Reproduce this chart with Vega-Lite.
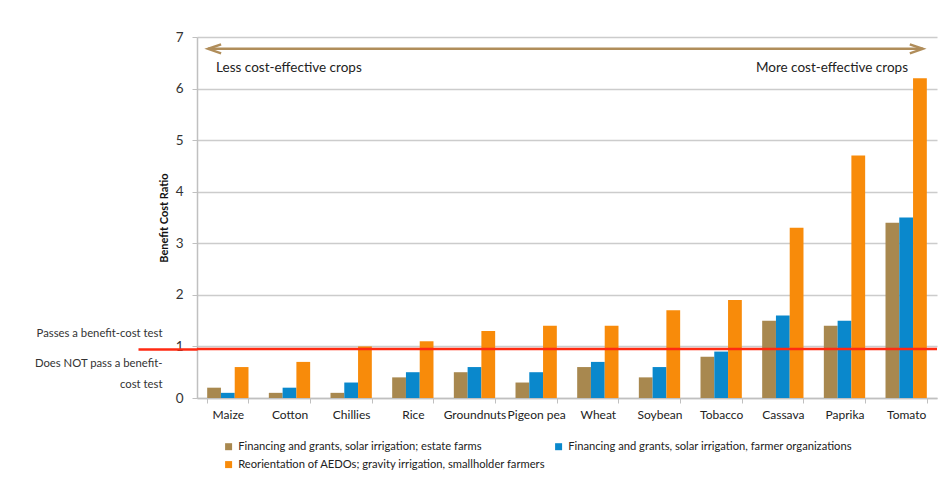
{
  "$schema": "https://vega.github.io/schema/vega-lite/v6.json",
  "width": 740,
  "height": 361,
  "autosize": {"type": "none"},
  "padding": {"left": 197, "top": 37, "right": 9, "bottom": 92},
  "background": "white",
  "config": {
    "font": "Lato",
    "view": {"stroke": null},
    "axis": {"labelFont": "Lato", "titleFont": "Lato"},
    "legend": {"labelFont": "Lato"},
    "text": {"font": "Lato"}
  },
  "datasets": {
    "bcr": [
      {"crop": "Maize", "series": "Financing and grants, solar irrigation; estate farms", "value": 0.2},
      {"crop": "Maize", "series": "Financing and grants, solar irrigation, farmer organizations", "value": 0.1},
      {"crop": "Maize", "series": "Reorientation of AEDOs; gravity irrigation, smallholder farmers", "value": 0.6},
      {"crop": "Cotton", "series": "Financing and grants, solar irrigation; estate farms", "value": 0.1},
      {"crop": "Cotton", "series": "Financing and grants, solar irrigation, farmer organizations", "value": 0.2},
      {"crop": "Cotton", "series": "Reorientation of AEDOs; gravity irrigation, smallholder farmers", "value": 0.7},
      {"crop": "Chillies", "series": "Financing and grants, solar irrigation; estate farms", "value": 0.1},
      {"crop": "Chillies", "series": "Financing and grants, solar irrigation, farmer organizations", "value": 0.3},
      {"crop": "Chillies", "series": "Reorientation of AEDOs; gravity irrigation, smallholder farmers", "value": 1.0},
      {"crop": "Rice", "series": "Financing and grants, solar irrigation; estate farms", "value": 0.4},
      {"crop": "Rice", "series": "Financing and grants, solar irrigation, farmer organizations", "value": 0.5},
      {"crop": "Rice", "series": "Reorientation of AEDOs; gravity irrigation, smallholder farmers", "value": 1.1},
      {"crop": "Groundnuts", "series": "Financing and grants, solar irrigation; estate farms", "value": 0.5},
      {"crop": "Groundnuts", "series": "Financing and grants, solar irrigation, farmer organizations", "value": 0.6},
      {"crop": "Groundnuts", "series": "Reorientation of AEDOs; gravity irrigation, smallholder farmers", "value": 1.3},
      {"crop": "Pigeon pea", "series": "Financing and grants, solar irrigation; estate farms", "value": 0.3},
      {"crop": "Pigeon pea", "series": "Financing and grants, solar irrigation, farmer organizations", "value": 0.5},
      {"crop": "Pigeon pea", "series": "Reorientation of AEDOs; gravity irrigation, smallholder farmers", "value": 1.4},
      {"crop": "Wheat", "series": "Financing and grants, solar irrigation; estate farms", "value": 0.6},
      {"crop": "Wheat", "series": "Financing and grants, solar irrigation, farmer organizations", "value": 0.7},
      {"crop": "Wheat", "series": "Reorientation of AEDOs; gravity irrigation, smallholder farmers", "value": 1.4},
      {"crop": "Soybean", "series": "Financing and grants, solar irrigation; estate farms", "value": 0.4},
      {"crop": "Soybean", "series": "Financing and grants, solar irrigation, farmer organizations", "value": 0.6},
      {"crop": "Soybean", "series": "Reorientation of AEDOs; gravity irrigation, smallholder farmers", "value": 1.7},
      {"crop": "Tobacco", "series": "Financing and grants, solar irrigation; estate farms", "value": 0.8},
      {"crop": "Tobacco", "series": "Financing and grants, solar irrigation, farmer organizations", "value": 0.9},
      {"crop": "Tobacco", "series": "Reorientation of AEDOs; gravity irrigation, smallholder farmers", "value": 1.9},
      {"crop": "Cassava", "series": "Financing and grants, solar irrigation; estate farms", "value": 1.5},
      {"crop": "Cassava", "series": "Financing and grants, solar irrigation, farmer organizations", "value": 1.6},
      {"crop": "Cassava", "series": "Reorientation of AEDOs; gravity irrigation, smallholder farmers", "value": 3.3},
      {"crop": "Paprika", "series": "Financing and grants, solar irrigation; estate farms", "value": 1.4},
      {"crop": "Paprika", "series": "Financing and grants, solar irrigation, farmer organizations", "value": 1.5},
      {"crop": "Paprika", "series": "Reorientation of AEDOs; gravity irrigation, smallholder farmers", "value": 4.7},
      {"crop": "Tomato", "series": "Financing and grants, solar irrigation; estate farms", "value": 3.4},
      {"crop": "Tomato", "series": "Financing and grants, solar irrigation, farmer organizations", "value": 3.5},
      {"crop": "Tomato", "series": "Reorientation of AEDOs; gravity irrigation, smallholder farmers", "value": 6.2}
    ],
    "arrow": [{"start": 0.18, "end": 11.77, "y": 6.77}],
    "heads": [{"x": 0.18, "y": 6.77, "dir": "left"}, {"x": 11.77, "y": 6.77, "dir": "right"}],
    "noteLeft": [{"x": 0.31, "y": 6.4, "text": "Less cost-effective crops"}],
    "noteRight": [{"x": 11.53, "y": 6.4, "text": "More cost-effective crops"}],
    "threshold": [{"y": 0.95}],
    "side": [{"v": 1.26}, {"v": 0.95}, {"v": 0.66}]
  },
  "layer": [
    {
      "data": {"name": "bcr"},
      "mark": {"type": "bar"},
      "encoding": {
        "x": {
          "field": "crop", "type": "nominal", "sort": null,
          "scale": {"paddingInner": 0.33, "paddingOuter": 0.165},
          "axis": {
            "title": null, "labelAngle": 0, "labelFontSize": 12, "labelColor": "#222",
            "labelPadding": 6, "tickSize": 5, "tickColor": "#c0c0c0", "domainColor": "#c0c0c0",
            "domainWidth": 1.5, "tickBand": "extent", "labelLimit": 100
          }
        },
        "xOffset": {"field": "series", "type": "nominal", "sort": null, "scale": {"paddingInner": 0}},
        "y": {
          "field": "value", "type": "quantitative",
          "scale": {"domain": [0, 7], "nice": false},
          "axis": {
            "values": [0, 1, 2, 3, 4, 5, 6, 7], "format": "d",
            "title": "Benefit Cost Ratio", "titleFontSize": 11, "titleFontWeight": "bold",
            "titleColor": "#111", "titlePadding": 6,
            "labelFontSize": 13.5, "labelColor": "#333", "labelPadding": 9,
            "tickSize": 5, "tickColor": "#c0c0c0", "domainColor": "#c0c0c0", "domainWidth": 1.5,
            "gridColor": "#cccccc", "gridWidth": 1.5
          }
        },
        "color": {
          "field": "series", "type": "nominal", "sort": null,
          "scale": {
            "domain": [
              "Financing and grants, solar irrigation; estate farms",
              "Financing and grants, solar irrigation, farmer organizations",
              "Reorientation of AEDOs; gravity irrigation, smallholder farmers"
            ],
            "range": ["#a8884f", "#0a88cc", "#f88b0a"]
          },
          "legend": {
            "orient": "none", "legendX": 26, "legendY": 404, "columns": 2, "direction": "horizontal",
            "title": null, "symbolType": "square", "symbolSize": 49, "symbolStrokeWidth": 0,
            "labelFontSize": 11.2, "labelColor": "#222", "labelLimit": 400,
            "rowPadding": 6, "columnPadding": 7, "labelOffset": 4, "padding": 0
          }
        }
      }
    },
    {
      "data": {"name": "threshold"},
      "mark": {"type": "rule", "color": "#ff2a12", "strokeWidth": 2.5},
      "encoding": {
        "y": {"field": "y", "type": "quantitative", "scale": {"domain": [0, 7], "nice": false}, "axis": null}
      }
    },
    {
      "data": {"name": "arrow"},
      "mark": {"type": "rule", "color": "#b08d5a", "strokeWidth": 2.5},
      "encoding": {
        "x": {"field": "start", "type": "quantitative", "scale": {"domain": [0, 12], "nice": false}, "axis": null},
        "x2": {"field": "end"},
        "y": {"field": "y", "type": "quantitative", "scale": {"domain": [0, 7], "nice": false}, "axis": null}
      }
    },
    {
      "data": {"name": "heads"},
      "mark": {"type": "point", "filled": false, "color": "#b08d5a", "strokeWidth": 2.5, "size": 169, "opacity": 1},
      "encoding": {
        "x": {"field": "x", "type": "quantitative", "scale": {"domain": [0, 12], "nice": false}, "axis": null},
        "y": {"field": "y", "type": "quantitative", "scale": {"domain": [0, 7], "nice": false}, "axis": null},
        "shape": {
          "field": "dir", "type": "nominal",
          "scale": {"domain": ["left", "right"], "range": ["M2,-0.7L0,0L2,0.7", "M-2,-0.7L0,0L-2,0.7"]},
          "legend": null
        }
      }
    },
    {
      "data": {"name": "noteLeft"},
      "mark": {"type": "text", "align": "left", "baseline": "middle", "fontSize": 13.5, "color": "#222"},
      "encoding": {
        "x": {"field": "x", "type": "quantitative", "scale": {"domain": [0, 12], "nice": false}, "axis": null},
        "y": {"field": "y", "type": "quantitative", "scale": {"domain": [0, 7], "nice": false}, "axis": null},
        "text": {"field": "text"}
      }
    },
    {
      "data": {"name": "noteRight"},
      "mark": {"type": "text", "align": "right", "baseline": "middle", "fontSize": 13.5, "color": "#222"},
      "encoding": {
        "x": {"field": "x", "type": "quantitative", "scale": {"domain": [0, 12], "nice": false}, "axis": null},
        "y": {"field": "y", "type": "quantitative", "scale": {"domain": [0, 7], "nice": false}, "axis": null},
        "text": {"field": "text"}
      }
    },
    {
      "data": {"name": "side"},
      "mark": {"type": "point", "opacity": 0},
      "encoding": {
        "y": {
          "field": "v", "type": "quantitative",
          "scale": {"domain": [0, 7], "nice": false},
          "axis": {
            "orient": "left", "values": [1.26, 0.95, 0.66], "title": null, "domain": false, "grid": false,
            "labelExpr": "datum.value > 1.1 ? 'Passes a benefit-cost test' : (datum.value < 0.8 ? ['Does NOT pass a benefit-', 'cost test'] : '')",
            "tickSize": 59, "tickWidth": 2.5,
            "tickColor": {"condition": {"test": "datum.value == 0.95", "value": "#ff2a12"}, "value": "transparent"},
            "labelPadding": -24, "labelFontSize": 11.3, "labelColor": "#333", "labelLineHeight": 21,
            "labelBaseline": "middle", "labelLimit": 200
          }
        }
      }
    }
  ],
  "resolve": {"scale": {"x": "independent", "y": "independent"}}
}
